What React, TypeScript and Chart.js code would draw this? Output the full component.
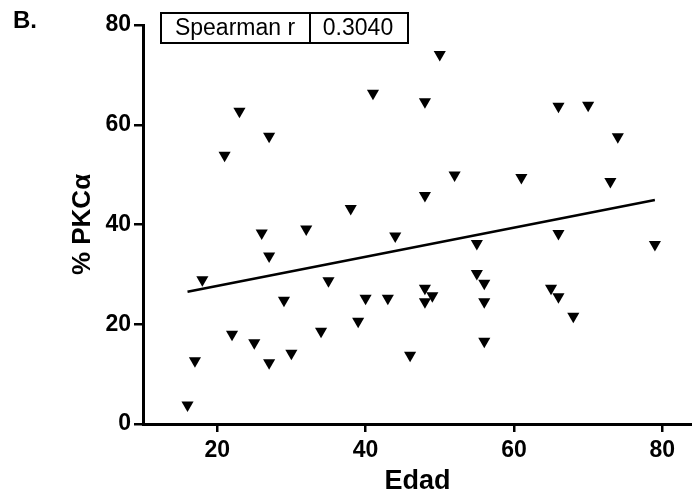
import React, { useEffect, useRef } from "react";
import { Chart, registerables } from "chart.js";

Chart.register(...registerables);

const edad = [16, 17, 18, 21, 22, 23, 25, 26, 27, 27, 27, 29, 30, 32, 34, 35, 38, 39, 40, 41, 43, 44, 46, 48, 48, 48, 48, 49, 50, 52, 55, 55, 56, 56, 56, 61, 65, 66, 66, 66, 68, 70, 73, 74, 79];
const pkc = [3.8, 12.7, 28.9, 53.9, 18.0, 62.7, 16.3, 38.3, 33.7, 57.7, 12.3, 24.8, 14.2, 39.1, 18.6, 28.7, 43.2, 20.6, 25.2, 66.3, 25.2, 37.7, 13.8, 64.6, 45.8, 27.2, 24.5, 25.7, 74.1, 49.9, 36.2, 30.2, 28.2, 24.5, 16.6, 49.4, 27.2, 25.5, 38.2, 63.7, 21.6, 63.9, 48.6, 57.6, 36.0];
const fitX = [16, 79];
const fitY = [26.5, 44.9];
const xTicks = [20, 40, 60, 80];
const yTicks = [0, 20, 40, 60, 80];
const xTitle = "Edad";
const yTitle = "% PKCα";
const panelLabel = "B.";
const statLabel = "Spearman r";
const statValue = "0.3040";

const FONT = "'Liberation Sans', Arial, Helvetica, sans-serif";

export default function App() {
  const ref = useRef<HTMLCanvasElement | null>(null);
  useEffect(() => {
    if (!ref.current) return;
    const annot = {
      id: "annot",
      afterDraw(chart: any) {
        const ctx = chart.ctx;
        ctx.save();
        ctx.fillStyle = "#000";
        ctx.strokeStyle = "#000";
        ctx.font = `bold 24px ${FONT}`;
        ctx.textAlign = "left";
        ctx.textBaseline = "alphabetic";
        ctx.fillText(panelLabel, 13, 28);
        ctx.lineWidth = 2;
        ctx.strokeRect(161, 13, 247, 30);
        ctx.beginPath();
        ctx.moveTo(310, 13);
        ctx.lineTo(310, 43);
        ctx.stroke();
        ctx.font = `23px ${FONT}`;
        ctx.textAlign = "center";
        ctx.textBaseline = "middle";
        ctx.fillText(statLabel, 235, 29);
        ctx.fillText(statValue, 358, 29);
        ctx.restore();
      },
    };
    const chart = new Chart(ref.current, {
      type: "scatter",
      data: {
        datasets: [
          {
            type: "scatter",
            data: edad.map((x, i) => ({ x, y: pkc[i] })),
            pointStyle: "triangle",
            rotation: 180,
            pointRadius: 7,
            pointHoverRadius: 7,
            backgroundColor: "#000",
            borderWidth: 0,
          } as any,
          {
            type: "line",
            data: fitX.map((x, i) => ({ x, y: fitY[i] })),
            borderColor: "#000",
            borderWidth: 2.5,
            pointRadius: 0,
            fill: false,
          } as any,
        ],
      },
      options: {
        responsive: false,
        animation: false,
        devicePixelRatio: 1,
        layout: { autoPadding: false, padding: { top: 25, left: 0, right: 0, bottom: 0 } },
        plugins: { legend: { display: false }, tooltip: { enabled: false } },
        scales: {
          x: {
            type: "linear",
            min: 10,
            max: 84,
            afterBuildTicks: (s: any) => {
              s.ticks = xTicks.map((v) => ({ value: v }));
            },
            afterFit: (s: any) => {
              s.height = 78;
              s.paddingRight = 0;
              s.paddingLeft = 0;
            },
            grid: { drawOnChartArea: false, drawTicks: true, tickLength: 8, color: "#000", lineWidth: 2.5 },
            border: { display: true, color: "#000", width: 3 },
            ticks: { color: "#000", font: { family: FONT, size: 23, weight: "bold" }, padding: 5, maxRotation: 0 },
            title: { display: true, text: xTitle, color: "#000", font: { family: FONT, size: 27, weight: "bold" }, padding: { top: 0, bottom: 4 } },
          },
          y: {
            type: "linear",
            min: 0,
            max: 80,
            afterBuildTicks: (s: any) => {
              s.ticks = yTicks.map((v) => ({ value: v }));
            },
            afterFit: (s: any) => {
              s.width = 143;
            },
            grid: { drawOnChartArea: false, drawTicks: true, tickLength: 9, color: "#000", lineWidth: 2.5 },
            border: { display: true, color: "#000", width: 3 },
            ticks: { color: "#000", font: { family: FONT, size: 23, weight: "bold" }, padding: 3 },
            title: { display: true, text: yTitle, color: "#000", font: { family: FONT, size: 26, weight: "bold" }, padding: { top: 67, bottom: 0 } },
          },
        },
      } as any,
      plugins: [annot],
    });
    return () => chart.destroy();
  }, []);
  return (
    <div style={{ position: "absolute", left: 0, top: 0, width: 692, height: 502, background: "#fff" }}>
      <canvas ref={ref} width={692} height={502} style={{ width: 692, height: 502, display: "block" }} />
    </div>
  );
}
